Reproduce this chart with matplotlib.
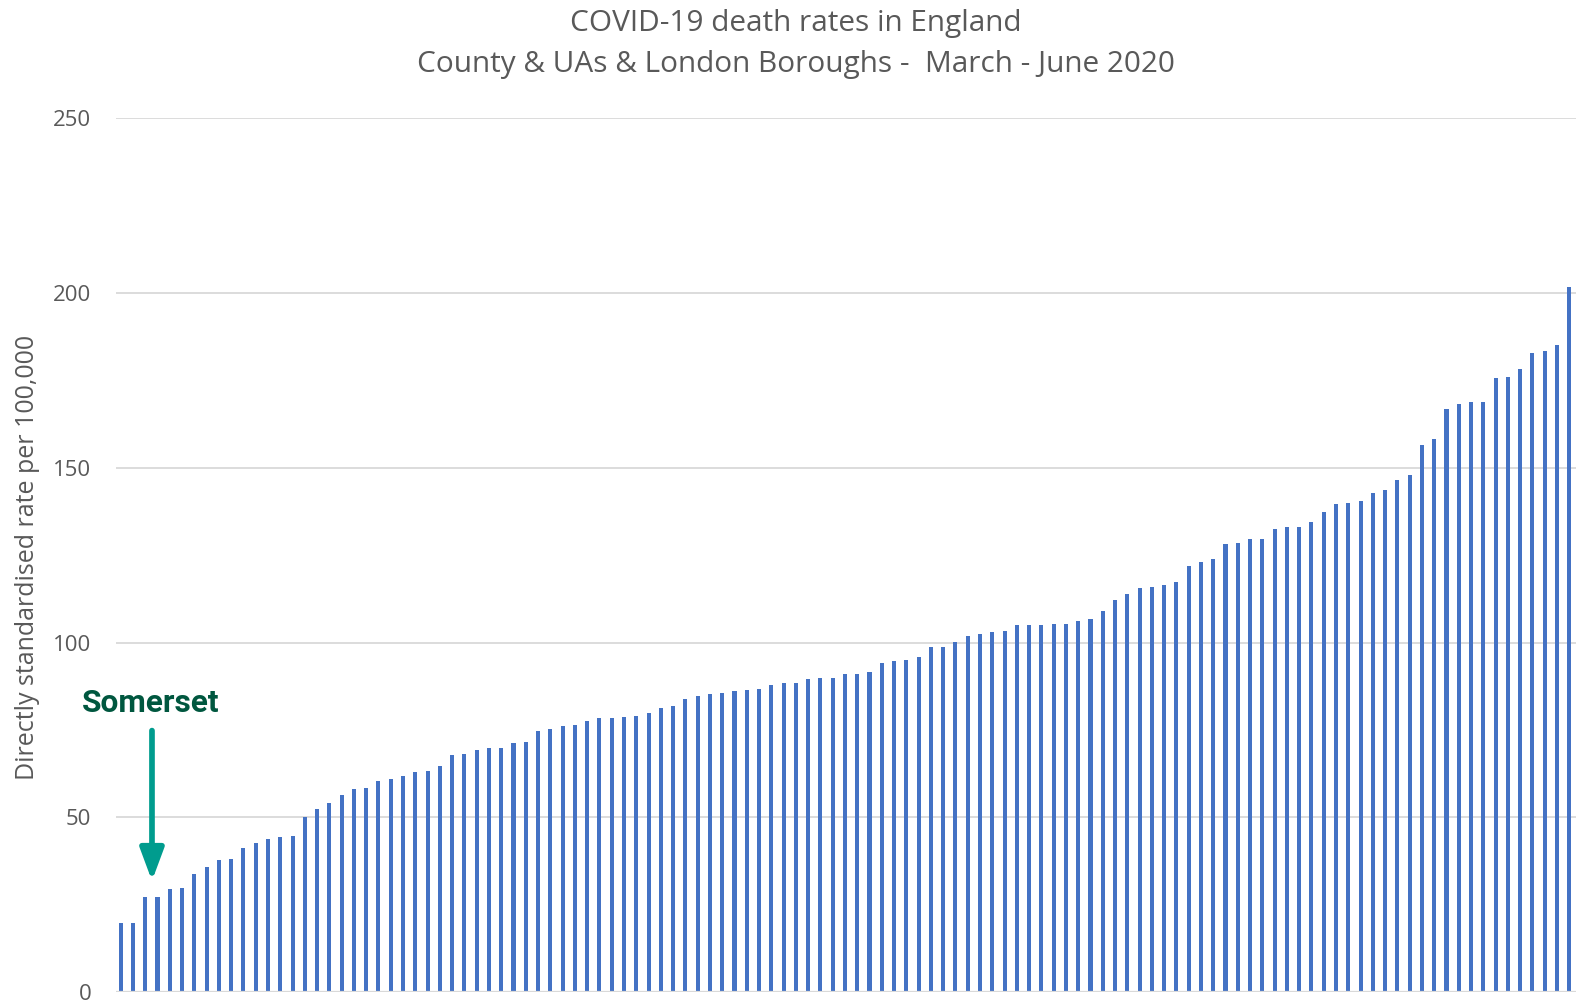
#!/usr/bin/env python3
# -*- coding: utf-8 -*-
"""COVID-19 death rates by upper-tier authority, sorted bar chart"""

import matplotlib
matplotlib.use("Agg")
import matplotlib.pyplot as plt
import numpy as np

# directly standardised rate per 100,000, sorted low -> high
rates = [
    19.7, 19.7, 27.1, 27.1, 29.5, 29.9, 33.8, 35.7, 37.7, 38.1, 41.2, 42.5,
    43.9, 44.3, 44.7, 50.2, 52.5, 54.2, 56.5, 58.0, 58.5, 60.4, 61.0,
    61.9, 63.0, 63.3, 64.6, 67.7, 68.1, 69.3, 69.7, 69.7, 71.3, 71.6, 74.8,
    75.2, 76.0, 76.3, 77.6, 78.3, 78.3, 78.7, 79.1, 79.9, 81.3, 81.8,
    83.7, 84.8, 85.2, 85.6, 86.1, 86.5, 86.7, 87.9, 88.4, 88.4, 89.5, 89.9,
    89.9, 91.0, 91.0, 91.5, 94.2, 94.7, 95.0, 95.8, 98.6, 98.6, 100.2,
    101.8, 102.3, 103.0, 103.3, 105.0, 105.0, 105.0, 105.4, 105.4, 106.1,
    106.6, 108.9, 112.3, 114.0, 115.5, 116.0, 116.4, 117.2, 121.8, 123.1,
    123.8, 128.1, 128.4,
    129.6, 129.6, 132.4, 133.1, 133.1, 134.6, 137.4, 139.6, 140.0, 140.6,
    142.9, 143.6, 146.4, 147.8, 156.5, 158.2, 166.8, 168.3, 168.7, 168.7,
    175.8, 176.1, 178.2, 182.9, 183.3, 185.2, 201.6,
]
yticks = [0, 50, 100, 150, 200, 250]

# Somerset sits between the two 27.1 bars
somerset_pos = 2.55
somerset_rate = 27.1

title_1 = "COVID-19 death rates in England"
title_2 = "County & UAs & London Boroughs -  March - June 2020"
ylabel = "Directly standardised rate per 100,000"

BAR = "#4472C4"
GRID = "#D9D9D9"
TXT = "#595959"
TEAL = "#009C8E"
DKGREEN = "#00573F"

plt.rcParams["font.family"] = ["Open Sans", "DejaVu Sans"]

fig = plt.figure(figsize=(15.76, 10), dpi=100)
ax = fig.add_axes([0.0733, 0.008, 0.9267, 0.8737])

x = np.arange(len(rates))
ax.bar(x, rates, width=0.33, color=BAR, zorder=2)

ax.set_xlim(-0.42, len(rates) - 1 + 0.55)
ax.set_ylim(0, 250)
ax.set_yticks(yticks)
ax.yaxis.grid(True, color=GRID, linewidth=1.3, zorder=0)
ax.axhline(0, color=GRID, linewidth=1.6, zorder=3)
ax.set_xticks([])
for s in ax.spines.values():
    s.set_visible(False)
ax.tick_params(axis="y", length=0, pad=17.5, labelsize=16, labelcolor=TXT)
ax.set_ylabel(ylabel, fontsize=18, color=TXT)
# centre of the rotated label at x ~ 27 px
ax.yaxis.set_label_coords((27.5 - 115.6) / (0.9267 * 1576), 0.497,
                          transform=ax.transAxes)
ax.yaxis.label.set_va("center")

# title, two lines
fig.text(0.5048, 1 - 23 / 1000, title_1, ha="center", va="center",
         fontsize=21.4, color=TXT)
fig.text(0.5048, 1 - 64.5 / 1000, title_2, ha="center", va="center",
         fontsize=21.4, color=TXT)

# Somerset marker
ax.annotate("", xy=(somerset_pos, somerset_rate + 4.7),
            xytext=(somerset_pos, somerset_rate + 47.7),
            arrowprops=dict(arrowstyle="-|>,head_length=0.97,head_width=0.36",
                            mutation_scale=20, color=TEAL, lw=4.1,
                            shrinkA=0, shrinkB=0),
            annotation_clip=False, zorder=5)
ax.text(somerset_pos - 0.15, somerset_rate + 55.5, "Somerset", ha="center",
        va="center", fontsize=22.8, fontweight="bold", color=DKGREEN,
        family=["Roboto", "DejaVu Sans"], zorder=5)

fig.savefig("out.png", dpi=100, facecolor="white")
plt.close()
